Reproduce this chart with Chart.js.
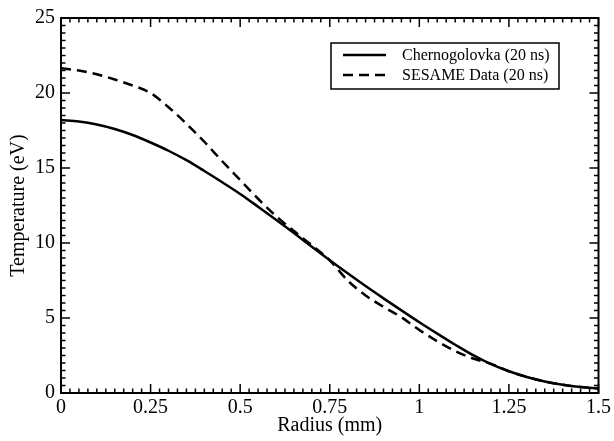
<!DOCTYPE html>
<html>
<head>
<meta charset="utf-8">
<script src="https://cdn.jsdelivr.net/npm/chart.js@4/dist/chart.umd.min.js"></script>
<style>
html,body{margin:0;padding:0;background:#fff;}
#wrap{width:614px;height:441px;position:relative;}
</style>
</head>
<body>
<div id="wrap"><canvas id="c" width="614" height="441"></canvas></div>
<script>
const radius = [0,0.05,0.1,0.15,0.2,0.25,0.3,0.35,0.4,0.45,0.5,0.55,0.6,0.65,0.7,0.75,0.8,0.85,0.9,0.95,1.0,1.05,1.1,1.15,1.2,1.25,1.3,1.35,1.4,1.45,1.5];
const chernogolovka = [18.2,18.1,17.9,17.6,17.2,16.7,16.15,15.52,14.8,14.05,13.27,12.42,11.55,10.66,9.75,8.85,7.98,7.13,6.31,5.51,4.72,3.96,3.22,2.52,1.92,1.45,1.07,0.77,0.55,0.4,0.3];
const sesame = [21.65,21.5,21.25,20.9,20.5,20.0,19.05,17.95,16.75,15.45,14.2,12.95,11.8,10.8,9.85,8.85,7.5,6.5,5.75,5.05,4.2,3.45,2.8,2.3,1.94,1.45,1.07,0.77,0.55,0.4,0.3];
const xTicks = [0,0.25,0.5,0.75,1,1.25,1.5];
const yTicks = [0,5,10,15,20,25];
const seriesLabels = ['Chernogolovka (20 ns)','SESAME Data (20 ns)'];

const FONT = '"Liberation Serif","Times New Roman",serif';

function pts(ys){ return radius.map((r,i)=>({x:r,y:ys[i]})); }

const framePlugin = {
  id:'frame',
  afterDatasetsDraw(chart){
    const {ctx, chartArea:a, scales:{x,y}} = chart;
    ctx.save();
    ctx.strokeStyle='#000';
    ctx.lineWidth=1.5;
    ctx.beginPath();
    for(let i=0;i<=60;i++){
      const v=i*0.025; const px=x.getPixelForValue(v);
      const L=(i%10===0)?9:4.5;
      ctx.moveTo(px,a.bottom); ctx.lineTo(px,a.bottom-L);
      ctx.moveTo(px,a.top); ctx.lineTo(px,a.top+L);
    }
    for(let i=0;i<=50;i++){
      const v=i*0.5; const py=y.getPixelForValue(v);
      const L=(i%10===0)?9:4.5;
      ctx.moveTo(a.left,py); ctx.lineTo(a.left+L,py);
      ctx.moveTo(a.right,py); ctx.lineTo(a.right-L,py);
    }
    ctx.stroke();
    ctx.lineWidth=2;
    ctx.strokeRect(a.left,a.top,a.right-a.left,a.bottom-a.top);
    // legend
    const bx=331, by=43, bw=228, bh=46;
    ctx.lineWidth=1.5;
    ctx.fillStyle='#fff';
    ctx.fillRect(bx,by,bw,bh);
    ctx.strokeRect(bx,by,bw,bh);
    ctx.font='16px '+FONT;
    ctx.textBaseline='middle';
    ctx.textAlign='left';
    chart.data.datasets.forEach((ds,i)=>{
      const yy=by+12+i*20;
      ctx.beginPath();
      ctx.setLineDash(ds.borderDash||[]);
      ctx.lineWidth=ds.borderWidth;
      ctx.moveTo(343,yy); ctx.lineTo(386,yy);
      ctx.stroke();
      ctx.setLineDash([]);
      ctx.fillStyle='#000';
      ctx.fillText(ds.label,402,yy+1);
    });
    ctx.restore();
  }
};

new Chart(document.getElementById('c'),{
  type:'line',
  data:{datasets:[
    {label:seriesLabels[0],data:pts(chernogolovka),borderColor:'#000',borderWidth:2.5,pointRadius:0,fill:false,cubicInterpolationMode:'monotone'},
    {label:seriesLabels[1],data:pts(sesame),borderColor:'#000',borderWidth:2.5,borderDash:[10,6],pointRadius:0,fill:false,cubicInterpolationMode:'monotone'}
  ]},
  options:{
    responsive:false,
    animation:false,
    layout:{padding:{top:15,right:13,left:0,bottom:0}},
    plugins:{legend:{display:false},tooltip:{enabled:false}},
    scales:{
      x:{type:'linear',min:0,max:1.5,
        afterFit(s){s.height=48;},
        afterBuildTicks(s){s.ticks=xTicks.map(v=>({value:v}));},
        grid:{display:false,drawTicks:false},
        border:{display:false},
        ticks:{padding:3,color:'#000',font:{family:FONT,size:20},maxRotation:0,autoSkip:false,callback:v=>String(v)},
        title:{display:true,text:'Radius (mm)',color:'#000',font:{family:FONT,size:20},padding:{top:0,bottom:3}}
      },
      y:{min:0,max:25,
        afterFit(s){s.width=61;},
        afterBuildTicks(s){s.ticks=yTicks.map(v=>({value:v}));},
        grid:{display:false,drawTicks:false},
        border:{display:false},
        ticks:{padding:6,color:'#000',font:{family:FONT,size:20},callback:v=>String(v)},
        title:{display:true,text:'Temperature (eV)',color:'#000',font:{family:FONT,size:20},padding:{top:7,bottom:0}}
      }
    }
  },
  plugins:[framePlugin]
});
</script>
</body>
</html>
